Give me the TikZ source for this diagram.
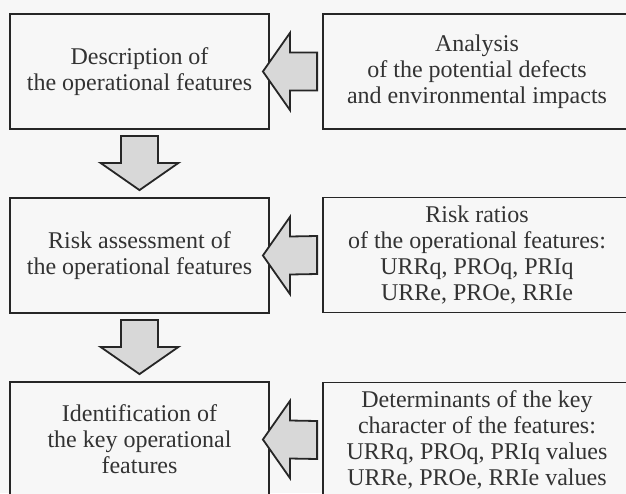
\documentclass[tikz,border=0pt]{standalone}
\usepackage{fontspec}
\setmainfont{Liberation Serif}
\usetikzlibrary{calc}
\definecolor{bg}{HTML}{F7F7F7}
\definecolor{ink}{HTML}{262626}
\definecolor{txt}{HTML}{333333}
\definecolor{arrowfill}{HTML}{D8D8D8}
\tikzset{
  box/.style={draw=ink, line width=1.8pt, fill=bg, text=txt, align=center,
    font=\fontsize{24}{26}\selectfont, inner sep=0pt},
  leftbox/.style={box, minimum width=259pt, minimum height=115pt},
  rightbox/.style={box, minimum width=308pt, minimum height=115pt},
  blockarrow/.style={draw=ink, line width=1.8pt, fill=arrowfill, line join=miter}
}
\begin{document}
\begin{tikzpicture}[x=1pt,y=-1pt]
\useasboundingbox (0,0) rectangle (626,493);
\fill[bg] (0,0) rectangle (626,493);
\clip (0,0) rectangle (626,493);

\node[leftbox] (l1) at (139.5,71.5) {Description of\\the operational features};
\node[leftbox] (l2) at (139.5,255.5) {Risk assessment of\\the operational features};
\node[leftbox] (l3) at (139.5,439.5) {Identification of\\the key operational\\features};

\node[rightbox] (r1) at (477,71.5) {Analysis\\of the potential defects\\and environmental impacts};
\node[rightbox] (r2) at (477,255) {Risk ratios\\of the operational features:\\URRq, PROq, PRIq\\URRe, PROe, RRIe};
\node[rightbox] (r3) at (477,440) {Determinants of the key\\character of the features:\\URRq, PROq, PRIq values\\URRe, PROe, RRIe values};

\foreach \i in {1,2,3}{
  \draw[blockarrow] ($(r\i.west)+(-5,-19)$) -- ($(l\i.east)+(20,-19)$)
    -- ($(l\i.east)+(20,-38.5)$) -- ($(l\i.east)+(-7,0)$)
    -- ($(l\i.east)+(20,38.5)$) -- ($(l\i.east)+(20,19)$)
    -- ($(r\i.west)+(-5,19)$) -- cycle;
}

\draw[blockarrow] ($(l1.south)+(-18.5,6)$) -- ($(l1.south)+(-18.5,33)$)
  -- ($(l1.south)+(-39,33)$) -- ($(l2.north)+(0,-7)$)
  -- ($(l1.south)+(39,33)$) -- ($(l1.south)+(18.5,33)$)
  -- ($(l1.south)+(18.5,6)$) -- cycle;
\draw[blockarrow] ($(l2.south)+(-18.5,6)$) -- ($(l2.south)+(-18.5,33)$)
  -- ($(l2.south)+(-39,33)$) -- ($(l3.north)+(0,-7)$)
  -- ($(l2.south)+(39,33)$) -- ($(l2.south)+(18.5,33)$)
  -- ($(l2.south)+(18.5,6)$) -- cycle;
\end{tikzpicture}
\end{document}
